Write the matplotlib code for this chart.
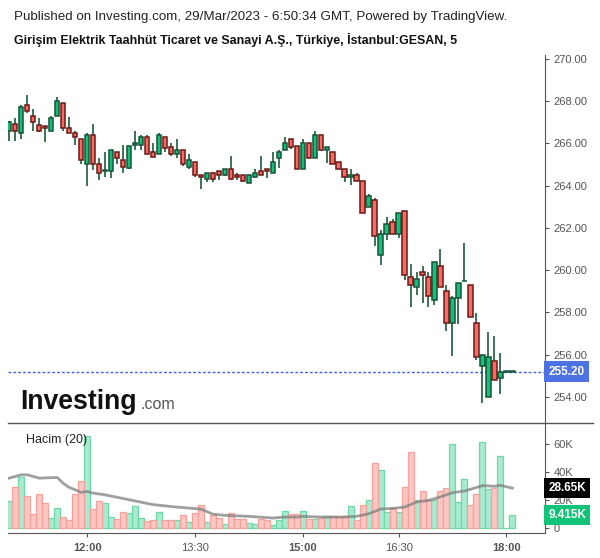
import matplotlib
matplotlib.use("Agg")
import matplotlib.pyplot as plt
from matplotlib.lines import Line2D
import numpy as np

plt.rcParams['font.family'] = ['Liberation Sans', 'DejaVu Sans']

# --- data: 5-minute candles ---
opens = [266.57, 266.91, 266.47, 267.80, 267.28, 266.88, 266.80, 266.57, 267.28, 267.89,
         266.71, 266.47, 266.19, 265.01, 266.38, 265.01, 264.70, 264.70, 265.57, 265.20,
         264.83, 265.90, 265.90, 266.28, 265.57, 265.48, 266.28, 265.81, 265.48, 265.67,
         264.86, 265.10, 264.49, 264.30, 264.58, 264.67, 264.49, 264.77, 264.49, 264.49,
         264.11, 264.39, 264.67, 264.77, 264.58, 265.29, 265.67, 266.19, 265.89, 264.77,
         266.00, 265.29, 266.38, 265.67, 265.57, 265.10, 264.77, 264.39, 264.49, 264.20,
         262.97, 263.30, 260.70, 261.69, 262.26, 261.69, 262.78, 259.66, 259.19, 259.90,
         259.66, 258.57, 260.18, 259.00, 257.48, 258.67, 259.47, 259.28, 257.48, 255.45,
         253.98, 255.69, 254.88, 255.20, 255.20]
highs = [267.04, 267.20, 267.80, 268.30, 267.62, 267.20, 266.80, 267.28, 268.18, 267.89,
         267.25, 266.57, 266.19, 266.49, 266.91, 265.29, 265.57, 265.67, 265.57, 265.92,
         265.89, 266.58, 266.39, 266.39, 266.02, 266.49, 266.28, 266.02, 266.20, 265.67,
         265.48, 265.10, 264.49, 264.58, 264.66, 264.67, 264.77, 265.38, 264.58, 264.49,
         264.49, 264.77, 265.38, 264.77, 265.57, 265.67, 266.28, 266.19, 265.89, 266.19,
         266.00, 266.58, 266.38, 265.81, 265.57, 265.10, 264.77, 264.77, 264.58, 264.20,
         263.59, 263.40, 261.88, 262.50, 262.40, 262.69, 262.78, 260.28, 259.90, 260.18,
         259.90, 260.37, 260.99, 259.28, 258.76, 259.38, 261.27, 259.28, 257.96, 255.97,
         257.06, 256.87, 256.07, 255.20, 255.20]
lows = [266.12, 266.12, 266.22, 267.42, 266.60, 266.55, 266.05, 266.57, 267.28, 266.60,
        266.47, 265.94, 265.04, 264.00, 264.72, 264.25, 264.39, 264.36, 265.04, 264.61,
        264.80, 265.68, 265.68, 265.48, 265.37, 265.48, 265.61, 265.42, 265.32, 264.91,
        264.80, 264.42, 263.82, 264.15, 264.15, 264.25, 264.47, 264.25, 264.25, 264.15,
        264.11, 264.34, 264.49, 264.34, 264.58, 264.82, 265.67, 265.72, 264.77, 264.77,
        265.29, 265.29, 265.62, 265.05, 265.01, 264.77, 264.15, 264.01, 264.20, 262.69,
        262.97, 261.13, 260.23, 261.41, 261.69, 261.51, 259.52, 258.24, 258.81, 258.43,
        258.24, 258.34, 259.19, 257.11, 255.92, 257.44, 259.47, 257.77, 255.73, 253.70,
        253.98, 254.79, 254.13, 255.20, 255.20]
closes = [266.99, 266.57, 267.70, 267.51, 266.99, 266.57, 266.71, 267.18, 267.99, 266.71,
          266.47, 266.28, 265.20, 266.38, 265.01, 264.58, 264.72, 265.67, 265.29, 264.86,
          265.89, 266.00, 266.28, 265.48, 265.37, 266.38, 265.79, 265.48, 265.67, 265.01,
          265.20, 264.49, 264.39, 264.58, 264.30, 264.49, 264.77, 264.30, 264.39, 264.20,
          264.49, 264.58, 264.49, 264.67, 265.10, 265.57, 266.00, 265.81, 264.77, 266.00,
          265.29, 266.38, 265.67, 265.81, 265.01, 264.77, 264.39, 264.49, 264.20, 262.69,
          263.49, 261.60, 261.69, 262.17, 261.69, 262.69, 259.76, 259.28, 259.57, 259.76,
          258.76, 260.37, 259.19, 257.48, 258.67, 259.38, 259.47, 257.77, 255.88, 255.97,
          255.88, 254.79, 255.20, 255.20, 255.20]
volumes = [19.2, 29.4, 36.5, 23.0, 10.1, 24.6, 18.2, 7.3, 14.4, 8.0,
           6.1, 24.6, 33.7, 66.1, 13.7, 19.6, 18.0, 8.0, 6.5, 11.8,
           10.8, 15.8, 7.3, 5.4, 6.1, 11.8, 6.1, 6.1, 6.1, 9.4,
           4.6, 10.8, 16.5, 4.6, 9.4, 7.3, 3.0, 10.8, 6.5, 6.5,
           3.5, 3.0, 6.5, 6.1, 2.3, 6.1, 12.3, 10.5, 10.5, 12.3,
           6.5, 6.5, 7.3, 8.7, 8.7, 8.0, 8.7, 15.8, 5.8, 16.5,
           20.1, 46.5, 41.5, 11.5, 14.4, 11.5, 29.4, 54.4, 20.1, 26.5,
           20.1, 20.1, 26.5, 28.7, 60.1, 18.7, 35.1, 16.5, 24.4, 61.5,
           28.0, 28.9, 51.8, 0.0, 9.415]  # thousands

# volume moving average (20), read at sample candles
ma_idx = [0, 2, 3, 5, 8, 9, 10, 11, 12, 13, 14, 16, 20, 24, 28, 32, 34, 36, 40, 44,
          46, 48, 49, 52, 56, 58, 60, 62, 64, 66, 68, 70, 72, 74, 76, 78, 79, 81, 82, 84]
ma_val = [35.8, 38.2, 38.2, 35.8, 36.3, 32.2, 29.2, 27.5, 25.6, 26.3, 25.1, 23.9, 20.4,
          16.9, 15.1, 13.7, 10.1, 9.2, 8.5, 7.3, 8.0, 8.0, 8.5, 8.0, 8.0, 8.5, 10.3,
          13.7, 14.2, 15.1, 18.7, 19.9, 22.4, 25.4, 26.6, 29.1, 30.5, 30.0, 30.7, 28.65]

tick_pos = [13, 31, 49, 65, 83]
tick_labels = ["12:00", "13:30", "15:00", "16:30", "18:00"]
last_price = 255.20

# --- colours ---
UP_FILL, UP_EDGE = "#10c276", "#17533a"
DN_FILL, DN_EDGE = "#f76b60", "#6b1a17"
WICK = "#1d5a3a"
VUP_FILL, VUP_EDGE = "#a9ead0", "#6cd9a7"
VDN_FILL, VDN_EDGE = "#fcc6c2", "#f4a39c"
AXCOL = "#555555"

W, H = 600, 558
fig = plt.figure(figsize=(6, 5.58), dpi=100)
fig.patch.set_facecolor("white")

def fy(py):
    return 1 - py / H

ax = fig.add_axes([8 / W, fy(423), (545 - 8) / W, (423 - 55) / H])
axv = fig.add_axes([8 / W, fy(533), (545 - 8) / W, (533 - 423) / H], sharex=ax)

x = np.arange(len(opens))
o = np.array(opens); c = np.array(closes)
up = c >= o

# wicks
ax.vlines(x, lows, highs, color=WICK, lw=1.2, zorder=1)
# bodies
bottoms = np.minimum(o, c)
heights = np.maximum(np.abs(c - o), 0.03)
ax.bar(x[up], heights[up], bottom=bottoms[up], width=0.72,
       color=UP_FILL, edgecolor=UP_EDGE, linewidth=1.1, zorder=2)
ax.bar(x[~up], heights[~up], bottom=bottoms[~up], width=0.72,
       color=DN_FILL, edgecolor=DN_EDGE, linewidth=1.1, zorder=2)

# last price line
ax.axhline(last_price, color="#3b62e6", lw=1, dashes=(2, 1.5), zorder=0)

ax.set_xlim(-0.2, 89.45)
ax.set_ylim(252.77, 270.18)
ax.set_yticks(np.arange(254, 271, 2))
ax.yaxis.set_major_formatter(matplotlib.ticker.FormatStrFormatter("%.2f"))
ax.yaxis.tick_right()
ax.tick_params(axis='y', colors=AXCOL, labelsize=8, length=3, pad=3)
ax.tick_params(axis='x', bottom=False, labelbottom=False)
for s in ["top", "left", "bottom"]:
    ax.spines[s].set_visible(False)
ax.spines["right"].set_color(AXCOL)

box = dict(boxstyle="square,pad=0.36", ec="none")
ax.text(1.006, last_price, "255.20", transform=ax.get_yaxis_transform(),
        color="white", fontsize=8.5, fontweight="bold", va="center", ha="left",
        bbox=dict(box, fc="#4d72e3"))

# Investing logo
fig.text(20 / W, fy(409), "Investing", fontsize=19.2, fontweight="bold", color="#111111")
fig.text(140 / W, fy(409), ".com", fontsize=11.5, color="#555555")

# volume
v = np.array(volumes)
axv.bar(x[up], v[up], width=1.0, color=VUP_FILL, edgecolor=VUP_EDGE, linewidth=0.9)
axv.bar(x[~up], v[~up], width=1.0, color=VDN_FILL, edgecolor=VDN_EDGE, linewidth=0.9)
axv.plot(ma_idx, ma_val, color="#7f7f7f", lw=2, alpha=0.75)
axv.set_ylim(-3.4, 75.2)
axv.set_yticks([0, 20, 40, 60])
axv.set_yticklabels(["0", "20K", "40K", "60K"])
axv.yaxis.tick_right()
axv.tick_params(axis='y', colors=AXCOL, labelsize=8, length=3, pad=3)
axv.set_xticks(tick_pos)
axv.set_xticklabels(tick_labels)
axv.tick_params(axis='x', colors=AXCOL, labelsize=8, length=3, pad=4)
for lbl in axv.get_xticklabels():
    if lbl.get_text().endswith(":00"):
        lbl.set_fontweight("bold")
for s in ["top", "left"]:
    axv.spines[s].set_visible(False)
axv.spines["right"].set_color(AXCOL)
axv.spines["bottom"].set_color(AXCOL)

axv.text(18 / 537, 0.845, "Hacim (20)", transform=axv.transAxes, fontsize=9,
         color="#222222", va="center")

axv.text(1.006, 28.65, "28.65K", transform=axv.get_yaxis_transform(),
         color="white", fontsize=8.5, fontweight="bold", va="center", ha="left",
         bbox=dict(box, fc="black"))
axv.text(1.006, 9.415, "9.415K", transform=axv.get_yaxis_transform(),
         color="white", fontsize=8.5, fontweight="bold", va="center", ha="left",
         bbox=dict(box, fc="#12c477"))

# separator between panels
fig.add_artist(Line2D([8 / W, 593 / W], [fy(423), fy(423)], color=AXCOL, lw=1))

# titles
fig.text(14 / W, fy(17), "Published on Investing.com, 29/Mar/2023 - 6:50:34 GMT, Powered by TradingView.",
         fontsize=9.6, color="#222222", va="center")
fig.text(14 / W, fy(40), "Girişim Elektrik Taahhüt Ticaret ve Sanayi A.Ş., Türkiye, İstanbul:GESAN, 5",
         fontsize=8.9, fontweight="bold", color="#111111", va="center")

fig.savefig("out.png", dpi=100, facecolor="white")
